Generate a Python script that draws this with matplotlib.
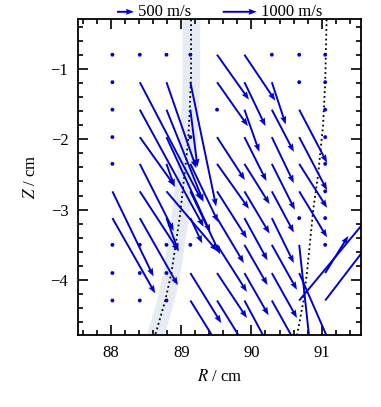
import numpy as np
import matplotlib
matplotlib.use("Agg")
import matplotlib.pyplot as plt

plt.rcParams['font.family'] = ['Liberation Serif', 'DejaVu Serif']
plt.rcParams['mathtext.fontset'] = 'stix'
plt.rcParams['font.size'] = 12

# grid of measurement positions
R_pos = [88.02, 88.41, 88.79, 89.13, 89.51, 89.90, 90.29, 90.68, 91.05]
Z_pos = [-0.80, -1.19, -1.58, -1.97, -2.35, -2.74, -3.12, -3.50, -3.90, -4.29]

# velocity components (m/s), one row per Z position
v_R = [
    [0, 0, 0, 0, 940, 910, 0, 0, 0],
    [0, 1820, 880, 760, 910, 620, 410, 0, 0],
    [0, 1880, 1090, 210, 0, 440, 650, 820, 0],
    [0, 1030, 1290, 0, 820, 650, 650, 820, 0],
    [0, 1000, 240, 820, 940, 740, 680, 820, 0],
    [1210, 1150, 1500, 880, 880, 740, 650, 820, 0],
    [1260, 1120, 350, 350, 790, 680, 650, 0, 0],
    [0, 0, 0, 0, 880, 680, 740, 350, 0],
    [0, 0, 0, 910, 880, 710, 740, 1030, 680],
    [0, 0, 0, 880, 820, 710, 740, 2350, 1470],
]
v_Z = [
    [0, 0, 0, 0, -1320, -1350, 0, 0, 0],
    [0, -3470, -2530, -3650, -1290, -1290, -1240, 0, 0],
    [0, -3440, -2710, -1680, 0, -1240, -1240, -1560, 0],
    [0, -1440, -2790, 0, -1260, -1290, -1350, -1560, 0],
    [0, -1970, -680, -1710, -1320, -1180, -1350, -1290, 0],
    [-2500, -1760, -1760, -1850, -1380, -1240, -1210, -1350, 0],
    [-2210, -1970, -970, -740, -1320, -1240, -1320, 0, 0],
    [0, 0, 0, 0, -1380, -1180, -1320, -3240, 0],
    [0, 0, 0, -1470, -1320, -1240, -1320, -2350, 1090],
    [0, 0, 0, -1410, -1320, -1320, -1320, 2820, 1910],
]

# dotted curves and the shaded band around the first one
line1_Z = [-0.3, -1.1, -1.6, -2.0, -2.3, -2.65, -3.1, -3.5, -3.9, -4.3, -4.78]
line1_R = [89.14, 89.14, 89.12, 89.10, 89.07, 89.03, 88.98, 88.92, 88.86, 88.77, 88.63]
band_halfwidth = 0.125
line2_Z = [-0.3, -1.2, -1.8, -2.5, -3.0, -3.5, -3.9, -4.3, -4.78]
line2_R = [91.07, 91.05, 91.02, 90.95, 90.88, 90.83, 90.79, 90.74, 90.65]

fig = plt.figure(figsize=(3.81, 4.07), dpi=100)
ax = fig.add_axes([0.2047, 0.1769, 0.7428, 0.7752])

l1R = np.array(line1_R)
ax.fill_betweenx(line1_Z, l1R - band_halfwidth, l1R + band_halfwidth,
                 color='#e6ebf4', lw=0, zorder=0)
ax.plot(line1_R, line1_Z, ls=':', color='k', lw=1.3, zorder=1)
ax.plot(line2_R, line2_Z, ls=':', color='k', lw=1.3, zorder=1)

RR, ZZ = np.meshgrid(R_pos, Z_pos)
# 1000 m/s corresponds to ~0.484 cm on the plot
q = ax.quiver(RR, ZZ, np.array(v_R), np.array(v_Z), angles='xy',
              scale_units='xy', scale=2068, color='#0000cc', width=0.0068,
              headwidth=3.2, headlength=4.2, headaxislength=3.8,
              minlength=2.2, zorder=2)

ax.quiverkey(q, 134 / 381, 0.971, 500, '500 m/s', labelpos='E',
             coordinates='figure', labelsep=0.04, fontproperties={'size': 12})
ax.quiverkey(q, 256.7 / 381, 0.971, 1000, '1000 m/s', labelpos='E',
             coordinates='figure', labelsep=0.04, fontproperties={'size': 12})

ax.set_xlim(87.53, 91.56)
ax.set_ylim(-4.78, -0.30)
ax.set_xticks([88, 89, 90, 91])
ax.set_yticks([-4, -3, -2, -1])
ax.set_xticks(np.arange(87.6, 91.6, 0.2), minor=True)
ax.set_yticks(np.arange(-4.6, -0.3, 0.2), minor=True)
ax.tick_params(which='both', direction='in', top=True, right=True, width=1.2)
ax.tick_params(which='major', length=7, pad=7)
ax.tick_params(which='minor', length=3.5)
for s in ax.spines.values():
    s.set_linewidth(1.3)

ax.set_xlabel('$R$ / cm', labelpad=6)
ax.set_ylabel('$Z$ / cm', labelpad=8)

fig.savefig('out.png', dpi=100)
